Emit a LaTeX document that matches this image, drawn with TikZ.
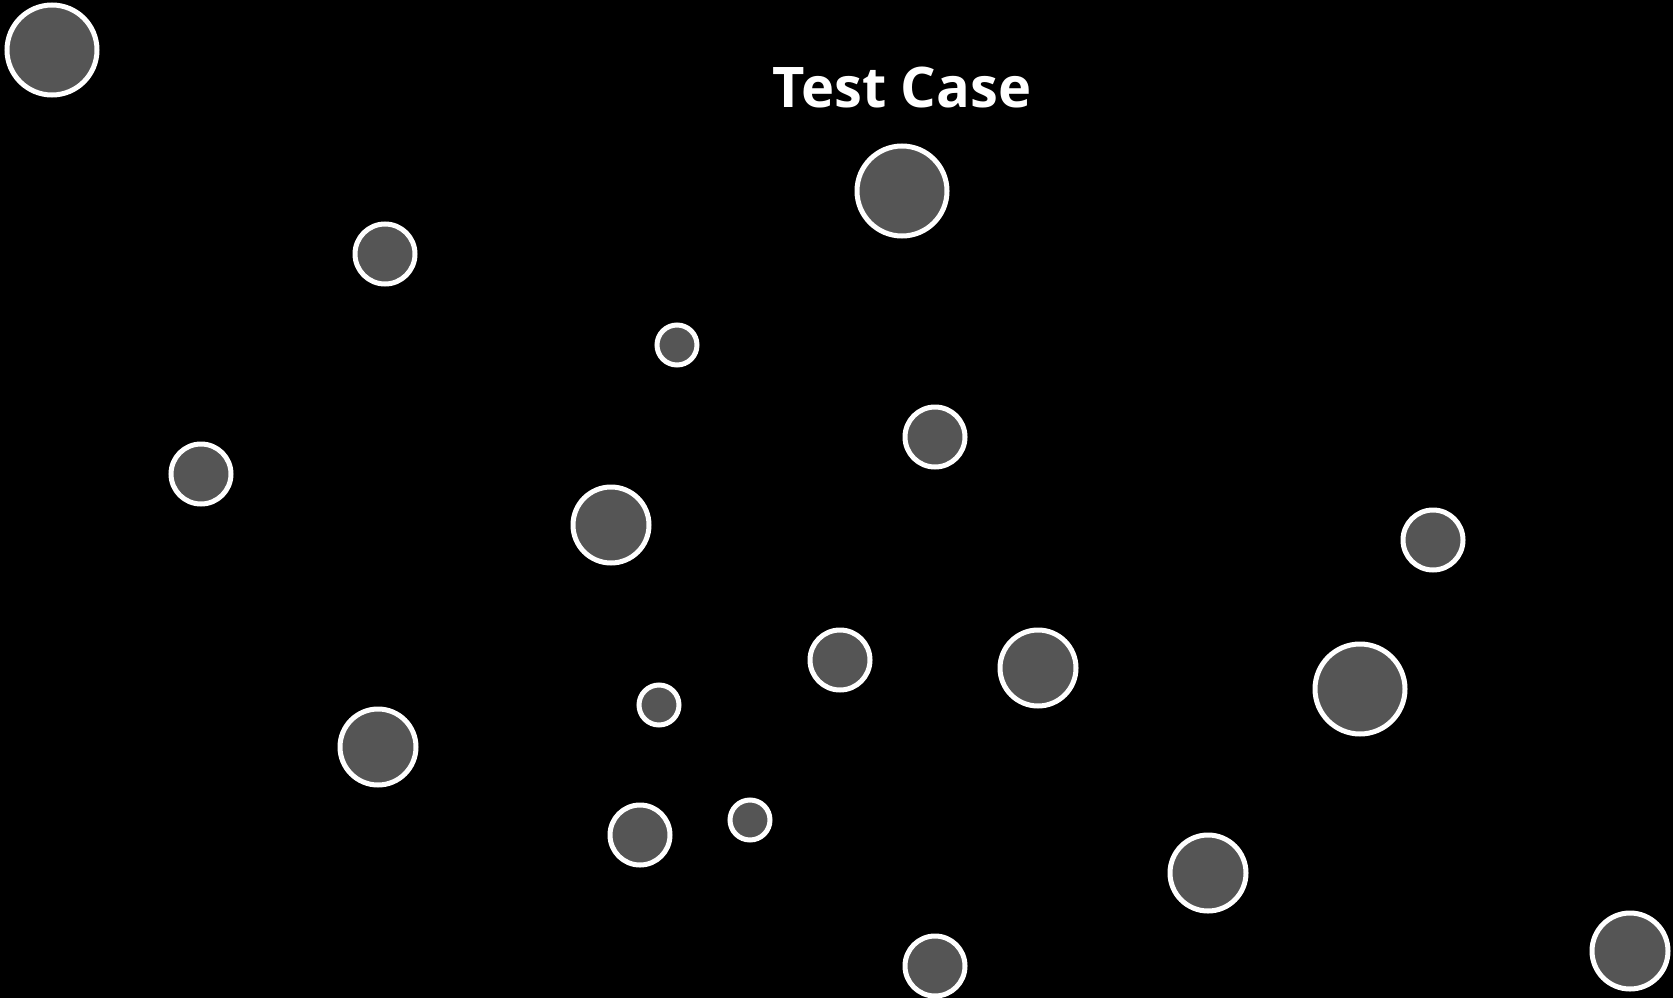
\documentclass[tikz,border=0pt]{standalone}
\usepackage{fontspec}
\setmainfont{Open Sans}
\definecolor{dotfill}{HTML}{555555}
\begin{document}
\begin{tikzpicture}[x=1pt,y=-1pt,
  dot/.style={circle,draw=white,line width=5pt,fill=dotfill,inner sep=0pt},
  big/.style={dot,minimum size=90pt},
  large/.style={dot,minimum size=76pt},
  mid/.style={dot,minimum size=60pt},
  small/.style={dot,minimum size=40pt},
  title/.style={text=white,font=\fontsize{56}{60}\selectfont\bfseries,inner sep=0pt,anchor=base}]
\fill[black] (0,0) rectangle (1673,998);
\useasboundingbox (0,0) rectangle (1673,998);
\node[title] (t) at (902,107) {Test Case};
\node[big] (c1) at (52,50) {};
\node[big] (c2) at (902,191) {};
\node[mid] (c3) at (385,254) {};
\node[small] (c4) at (677,345) {};
\node[mid] (c5) at (935,437) {};
\node[mid] (c6) at (201,474) {};
\node[large] (c7) at (611,525) {};
\node[mid] (c8) at (1433,540) {};
\node[mid] (c9) at (840,660) {};
\node[large] (c10) at (1038,668) {};
\node[big] (c11) at (1360,689) {};
\node[small] (c12) at (659,705) {};
\node[large] (c13) at (378,747) {};
\node[mid] (c14) at (640,835) {};
\node[small] (c15) at (750,820) {};
\node[large] (c16) at (1208,873) {};
\node[mid] (c17) at (935,966) {};
\node[large] (c18) at (1630,951) {};
\end{tikzpicture}
\end{document}
